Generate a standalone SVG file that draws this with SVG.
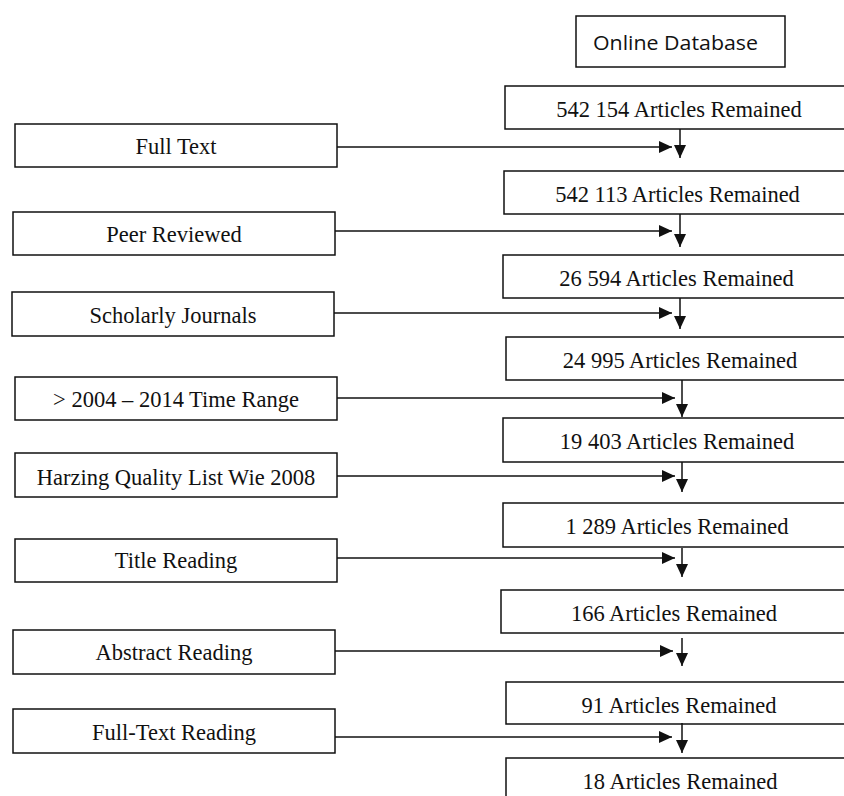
<svg xmlns="http://www.w3.org/2000/svg" width="844" height="796" viewBox="0 0 844 796">
<style>
.box{fill:#fff;stroke:#111;stroke-width:1.5}
.t{font-family:"Liberation Serif","Times New Roman",serif;font-size:22.5px;fill:#111;text-anchor:middle}
.s{font-family:"Open Sans","Noto Sans",sans-serif;font-size:20.5px;fill:#111;text-anchor:middle}
.c{stroke:#111;stroke-width:1.5;fill:none;marker-end:url(#ah)}
</style>
<defs>
<marker id="ah" markerUnits="userSpaceOnUse" markerWidth="13" markerHeight="12" refX="13" refY="6" orient="auto">
<path d="M0,0 L13,6 L0,12 z" fill="#111"/>
</marker>
</defs>
<rect width="844" height="796" fill="#fff"/>
<g id="online-database"><rect class="box" x="576" y="16" width="209" height="51"/><text class="s" x="675.5" y="50" textLength="165" lengthAdjust="spacingAndGlyphs">Online Database</text></g>
<g id="r1"><rect class="box" x="505" y="86" width="360" height="43"/><text class="t" x="679" y="117">542 154 Articles Remained</text></g>
<g id="r2"><rect class="box" x="504" y="171" width="360" height="43"/><text class="t" x="677.5" y="202">542 113 Articles Remained</text></g>
<g id="r3"><rect class="box" x="503" y="255" width="360" height="43"/><text class="t" x="676.5" y="286">26 594 Articles Remained</text></g>
<g id="r4"><rect class="box" x="506" y="337" width="360" height="43"/><text class="t" x="680" y="368">24 995 Articles Remained</text></g>
<g id="r5"><rect class="box" x="503" y="418" width="360" height="44"/><text class="t" x="677" y="449">19 403 Articles Remained</text></g>
<g id="r6"><rect class="box" x="503" y="503" width="360" height="44"/><text class="t" x="677" y="534">1 289 Articles Remained</text></g>
<g id="r7"><rect class="box" x="501" y="590" width="360" height="43"/><text class="t" x="674" y="621">166 Articles Remained</text></g>
<g id="r8"><rect class="box" x="506" y="682" width="360" height="42"/><text class="t" x="679" y="713">91 Articles Remained</text></g>
<g id="r9"><rect class="box" x="506" y="758" width="360" height="60"/><text class="t" x="680" y="789">18 Articles Remained</text></g>
<g id="f1"><rect class="box" x="15" y="124" width="322" height="43"/><text class="t" x="176" y="154">Full Text</text></g>
<g id="f2"><rect class="box" x="13" y="212" width="322" height="43"/><text class="t" x="174" y="242">Peer Reviewed</text></g>
<g id="f3"><rect class="box" x="12" y="292" width="322" height="44"/><text class="t" x="173" y="323">Scholarly Journals</text></g>
<g id="f4"><rect class="box" x="15" y="377" width="322" height="43"/><text class="t" x="176" y="407">&gt; 2004 – 2014 Time Range</text></g>
<g id="f5"><rect class="box" x="15" y="453" width="322" height="44"/><text class="t" x="176" y="485">Harzing Quality List Wie 2008</text></g>
<g id="f6"><rect class="box" x="15" y="539" width="322" height="43"/><text class="t" x="176" y="568">Title Reading</text></g>
<g id="f7"><rect class="box" x="13" y="630" width="322" height="44"/><text class="t" x="174" y="660">Abstract Reading</text></g>
<g id="f8"><rect class="box" x="13" y="709" width="322" height="44"/><text class="t" x="174" y="740">Full-Text Reading</text></g>
<g id="connectors">
<path class="c" d="M337,147 H672"/>
<path class="c" d="M335,231 H672"/>
<path class="c" d="M334,313 H672"/>
<path class="c" d="M337,398 H675"/>
<path class="c" d="M337,476 H675"/>
<path class="c" d="M337,558 H675"/>
<path class="c" d="M335,651 H673"/>
<path class="c" d="M335,737 H672"/>
<path class="c" d="M680,129 V158"/>
<path class="c" d="M680,214 V247"/>
<path class="c" d="M680,298 V329"/>
<path class="c" d="M682,380 V417"/>
<path class="c" d="M682,462 V492"/>
<path class="c" d="M682,548 V577"/>
<path class="c" d="M682,638 V666"/>
<path class="c" d="M682,723 V753"/>
</g>
</svg>
